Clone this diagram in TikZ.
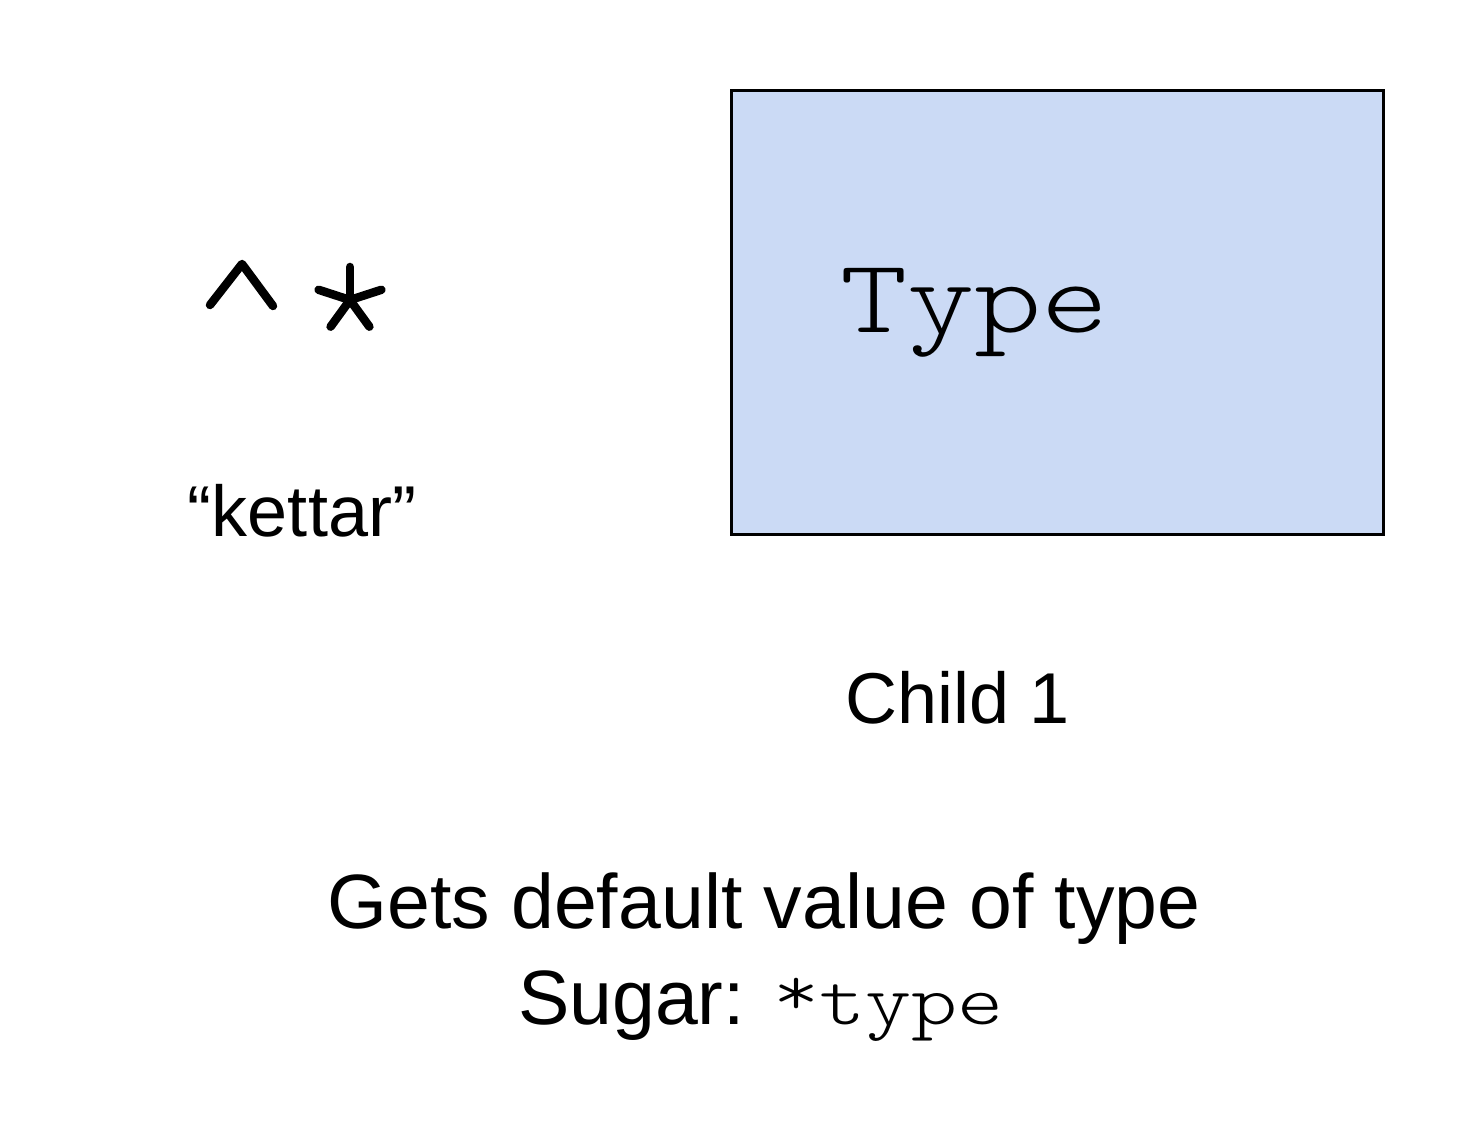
\documentclass[tikz,border=0pt]{standalone}
\usepackage{fontspec}
\setmainfont{Liberation Sans}
\newfontfamily\codefont{Latin Modern Mono Light}
\usepackage{tikz}
\newcommand{\code}[2]{{\fontsize{#1}{#1}\codefont\scalebox{1.22}[1]{#2}}}

\begin{document}
\begin{tikzpicture}[x=1pt,y=1pt]
\definecolor{fillColor}{RGB}{255,255,255}
\path[use as bounding box,fill=fillColor] (0,0) rectangle (1462,1128);
\definecolor{drawColor}{RGB}{0,0,0}
\definecolor{boxColor}{RGB}{203,218,245}
\tikzset{label/.style={inner sep=0pt,anchor=base,text=drawColor}}

\path[draw=drawColor,line width= 3pt,fill=boxColor] (731,593) rectangle (1383,1037);

\path[draw=drawColor,line width= 8.5pt,line cap=round,line join=round] (210,823) -- (242,864) -- (273,822);
\foreach \a in {90,162,234,306,18}
  \path[draw=drawColor,line width= 8.5pt,line cap=round] (350,828) -- ++(\a:33);

\node[label,anchor=base west] (type) at (840,795) {\code{105}{Type}};
\node[label] (kettar) at (302,591) {\fontsize{72}{86}\selectfont “kettar”};
\node[label] (child) at (958,404) {\fontsize{72}{86}\selectfont Child 1};
\node[label] (gets) at (764,200) {\fontsize{77}{92}\selectfont Gets default value of type};
\node[label] (sugar) at (761,104) {\fontsize{77}{92}\selectfont Sugar: \code{72}{\raisebox{9pt}{*}type}};
\end{tikzpicture}
\end{document}
